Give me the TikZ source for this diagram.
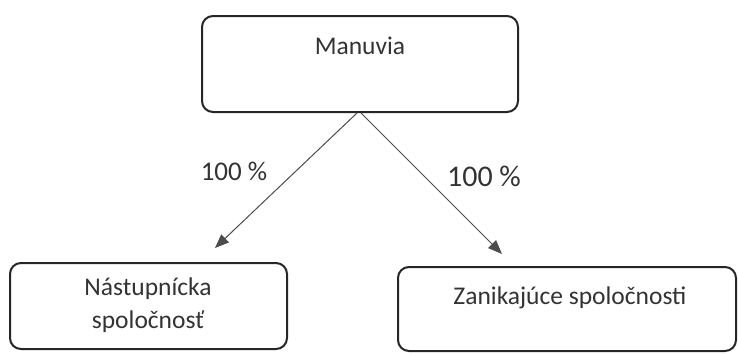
\documentclass[tikz,border=0pt]{standalone}
\usepackage{fontspec}
\setmainfont{Carlito}
\usetikzlibrary{arrows.meta}
\begin{document}
\begin{tikzpicture}[x=1pt,y=-1pt,
  box/.style={draw=black!85,line width=2pt,rounded corners=11pt},
  txt/.style={text=black!80,font=\fontsize{25.5}{33}\selectfont,inner sep=0pt,align=center},
  lbl/.style={text=black!80,font=\fontsize{27}{32}\selectfont,inner sep=0pt},
  conn/.style={draw=black!70,line width=1pt,-{Triangle[length=14pt,width=11pt]}}]
\useasboundingbox (0,0) rectangle (738,354);
\draw[box] (202,16) rectangle (518,112);
\draw[box] (10,263) rectangle (287,349);
\draw[box] (398,267) rectangle (736,351);
\node[txt] (m) at (360,46) {Manuvia};
\node[txt] (n) at (148,305) {Nástupnícka\\spoločnosť};
\node[txt] (z) at (570,298) {Zanikajúce spoločnosti};
\node[lbl] (l1) at (234,171) {100 \%};
\node[lbl,font=\fontsize{30}{34}\selectfont] (l2) at (484,176) {100 \%};
\coordinate (s1) at (357,113);
\coordinate (s2) at (361,113);
\coordinate (e1) at (215,248);
\coordinate (e2) at (502,254);
\draw[conn] (s1) -- (e1);
\draw[conn] (s2) -- (e2);
\end{tikzpicture}
\end{document}
